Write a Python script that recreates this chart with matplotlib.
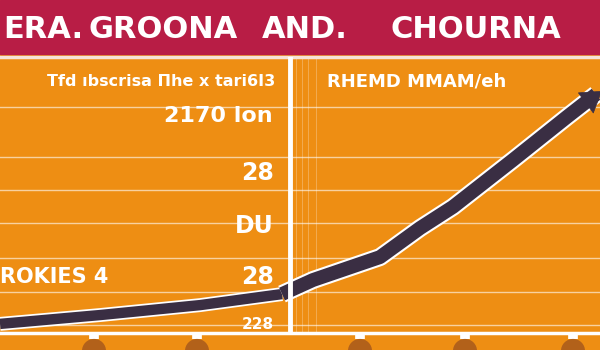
#!/usr/bin/env python3
"""
Poster-style growth chart: crimson banner, orange panel, thick outlined trend arrow.
Saves out.png (600x350).
"""

import matplotlib.pyplot as plt
import matplotlib.patheffects as pe
from matplotlib.patches import Rectangle

# ────────────────────────────────────────────────────────────────
# Data
# ────────────────────────────────────────────────────────────────
periods = [0, 10, 20, 28.2, 31.3, 38, 42, 45.3, 51.3, 56.7, 59.6]
trend_values = [3.3, 6.5, 10.1, 14.1, 19.2, 27.5, 38.0, 45.7, 62.7, 78.3, 86.5]

grid_levels = [2.9, 14.9, 27.2, 39.9, 51.8, 63.8, 81.9]
tick_periods = [9.4, 19.7, 36.0, 46.5, 57.3]

scale_labels = ["28", "DU", "28", "228"]
scale_levels = [58.0, 38.8, 20.3, 2.9]
scale_sizes = [17, 17, 17, 11]

title_words = ["ERA.", "GROONA", "AND.", "CHOURNA"]
title_lefts = [3, 88, 262, 390]  # pixels from left

# ────────────────────────────────────────────────────────────────
# Styling
# ────────────────────────────────────────────────────────────────
CRIMSON = "#B81D45"
ORANGE = "#EE8E13"
DARK = "#3A2E43"
BROWN = "#A8591C"
W, H = 600, 350


def px(x, y):
    """Pixel position (from top-left) -> figure fraction."""
    return x / W, 1 - y / H


fig = plt.figure(figsize=(6, 3.5), dpi=100, facecolor=ORANGE)

# banner
fig.patches.append(Rectangle((0, 1 - 54 / H), 1, 54 / H,
                             transform=fig.transFigure, color=CRIMSON, zorder=0))
for word, lx in zip(title_words, title_lefts):
    fig.text(*px(lx, 29), word, color="white", fontsize=22, fontweight="bold",
             ha="left", va="center", family="DejaVu Sans")

# ── main panel ─────────────────────────────────────────────────
ax = fig.add_axes([0, 17 / H, 1, 276 / H])
ax.set_facecolor(ORANGE)
ax.set_xlim(0, 60)
ax.set_ylim(0, 100)

for s in ["left", "right"]:
    ax.spines[s].set_visible(False)
ax.spines["bottom"].set_color("white")
ax.spines["bottom"].set_linewidth(2.5)
ax.spines["top"].set_color("#F6E3D6")
ax.spines["top"].set_linewidth(2.5)

ax.set_yticks(grid_levels)
ax.yaxis.grid(True, color="white", alpha=0.6, lw=1)
ax.tick_params(axis="y", length=0, labelleft=False)
ax.set_xticks(tick_periods)
ax.tick_params(axis="x", direction="out", length=4, width=7, color="white",
               labelbottom=False)

# faint vertical rulings right of the divider
for xv in [29.6, 30.2, 30.8, 31.6]:
    ax.axvline(xv, color="white", alpha=0.3, lw=0.6, zorder=1)

# trend line: thinner on the left, heavier on the right
outline = lambda w: [pe.Stroke(linewidth=w, foreground="white"), pe.Normal()]
ax.plot(periods[:4], trend_values[:4], color=DARK, lw=7.5, solid_capstyle="butt",
        path_effects=outline(10), zorder=3)
ax.plot(periods[3:], trend_values[3:], color=DARK, lw=10, solid_capstyle="butt",
        solid_joinstyle="round", path_effects=outline(13), zorder=3)
# small arrow head at the end of the trend
ax.annotate("", xy=(periods[-1] + 0.6, trend_values[-1] + 1.2),
            xytext=(periods[-2], trend_values[-2]),
            arrowprops=dict(arrowstyle="-|>,head_length=0.7,head_width=0.45",
                            fc=DARK, ec=DARK, lw=0.5, mutation_scale=20,
                            shrinkA=0, shrinkB=0),
            zorder=4, annotation_clip=False)

# divider
ax.axvline(28.95, color="white", lw=3.5, zorder=5)

# tick "labels" (blurred blobs)
ax.scatter(tick_periods, [-6.5] * len(tick_periods), s=300, color=BROWN,
           alpha=0.85, clip_on=False, zorder=2, edgecolors="none")

# scale labels on the left panel
for lab, lev, fs in zip(scale_labels, scale_levels, scale_sizes):
    ax.text(27.4, lev, lab, color="white", fontsize=fs, fontweight="bold",
            ha="right", va="center")

ax.text(0, 20.3, "ROKIES 4", color="white", fontsize=15, fontweight="bold",
        ha="left", va="center")

fig.text(*px(275, 82), "Tfd ıbscrisa Πhe x tari6I3", color="white", fontsize=11.5,
         fontweight="bold", ha="right", va="center")
fig.text(*px(273, 116), "2170 lon", color="white", fontsize=16, fontweight="bold",
         ha="right", va="center")
fig.text(*px(327, 82), "RHEMD MMAM/eh", color="white", fontsize=13,
         fontweight="bold", ha="left", va="center")

fig.savefig("out.png", dpi=100, facecolor=ORANGE)
